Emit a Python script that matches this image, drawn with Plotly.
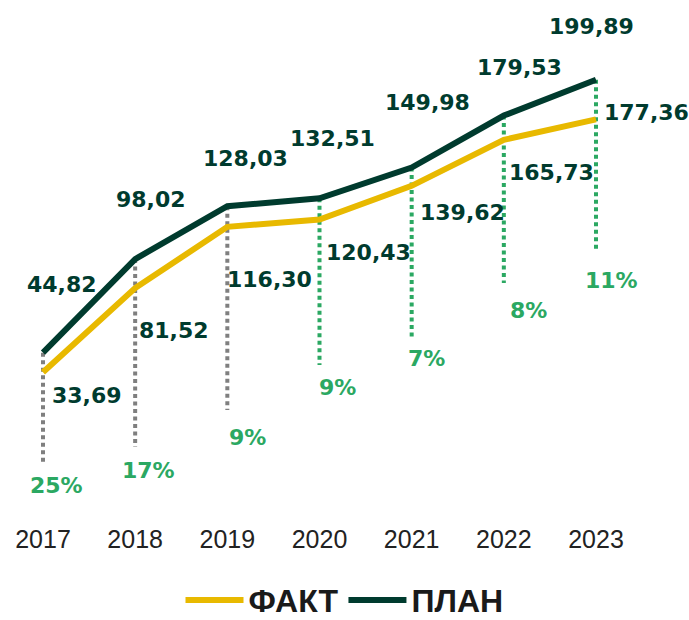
import plotly.graph_objects as go

# ---- data ----
years = ["2017", "2018", "2019", "2020", "2021", "2022", "2023"]
plan = [44.82, 98.02, 128.03, 132.51, 149.98, 179.53, 199.89]
fact = [33.69, 81.52, 116.30, 120.43, 139.62, 165.73, 177.36]
gap_labels = ["25%", "17%", "9%", "9%", "7%", "8%", "11%"]

# ---- styling / layout constants ----
YELLOW = "#E8B900"
DARK = "#003B2E"
GREEN = "#2BA862"
GREY = "#7F7F7F"
guide_colors = [GREY, GREY, GREY, GREEN, GREEN, GREEN, GREEN]
guide_bottom = [-17.3, -8.8, 12.2, 37.8, 53.7, 84.4, 102.0]  # y (data units) where guides end
plan_off = [(19, 68), (16, 60), (18, 48), (13, 60), (16, 65), (16, 48), (-5, 53)]
fact_off = [(44, -23), (39, -42), (42, -53), (49, -33), (51, -27), (48, -33), (50, 7)]
pct_off = [(13, -23), (13, -23), (20, -27), (18, -22), (15, -21), (25, -27), (15, -28)]

fig = go.Figure()

# dotted guide lines
for i, yr in enumerate(years):
    fig.add_trace(go.Scatter(
        x=[yr, yr], y=[plan[i], guide_bottom[i]], mode="lines",
        line=dict(color=guide_colors[i], width=4, dash="4px,3.5px"),
        showlegend=False, hoverinfo="skip"))

fig.add_trace(go.Scatter(x=years, y=fact, mode="lines", name="ФАКТ",
                         line=dict(color=YELLOW, width=6)))
fig.add_trace(go.Scatter(x=years, y=plan, mode="lines", name="ПЛАН",
                         line=dict(color=DARK, width=6)))

label_font = dict(family="DejaVu Sans", size=22, color=DARK)
pct_font = dict(family="DejaVu Sans", size=22, color=GREEN)

def fmt(v):
    return f"{v:.2f}".replace(".", ",")

annotations = []
for i, yr in enumerate(years):
    # category index i is the position of years[i] on the category axis
    annotations.append(dict(x=i, y=plan[i], xref="x", yref="y", text="<b>" + fmt(plan[i]) + "</b>",
                            showarrow=False, xshift=plan_off[i][0], yshift=plan_off[i][1], font=label_font))
    annotations.append(dict(x=i, y=fact[i], xref="x", yref="y", text="<b>" + fmt(fact[i]) + "</b>",
                            showarrow=False, xshift=fact_off[i][0], yshift=fact_off[i][1], font=label_font))
    annotations.append(dict(x=i, y=guide_bottom[i], xref="x", yref="y", text="<b>" + gap_labels[i] + "</b>",
                            showarrow=False, xshift=pct_off[i][0], yshift=pct_off[i][1], font=pct_font))

fig.update_layout(
    width=689, height=620,
    margin=dict(l=0, r=0, t=10, b=118, autoexpand=False),
    paper_bgcolor="white", plot_bgcolor="white",
    annotations=annotations,
    xaxis=dict(type="category", range=[-0.4665, 7.009], showgrid=False, zeroline=False,
               showline=False, ticks="", tickfont=dict(family="Liberation Sans", size=25, color="#222222"),
               ticklabelstandoff=20, automargin=False, fixedrange=True),
    yaxis=dict(range=[-40, 239.5], visible=False, showgrid=False, zeroline=False,
               automargin=False, fixedrange=True),
    legend=dict(orientation="h", xref="container", yref="container",
                x=0.5, xanchor="center", y=0.032, yanchor="middle",
                itemwidth=58, font=dict(family="Liberation Sans", size=32, color="#1a1a1a", weight="bold"),
                bgcolor="rgba(0,0,0,0)"),
    showlegend=True,
)

fig.write_html("out.html", config={"displayModeBar": False},
               post_script="document.body.style.margin='0';")
